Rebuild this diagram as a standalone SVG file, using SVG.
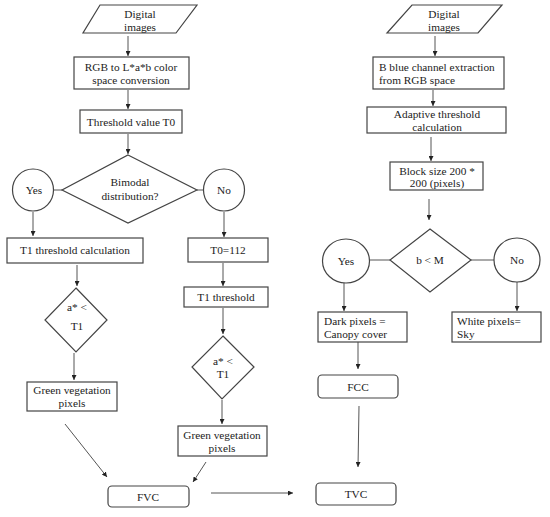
<svg xmlns="http://www.w3.org/2000/svg" width="550" height="517" viewBox="0 0 550 517">
<defs>
<marker id="ah" viewBox="0 0 10 10" refX="10" refY="5" markerWidth="5" markerHeight="5" orient="auto" markerUnits="userSpaceOnUse">
<path d="M0,0 L10,5 L0,10 z" fill="#222"/>
</marker>
</defs>
<style>
.s{fill:#fff;stroke:#444;stroke-width:1.2}
text{font-family:'Liberation Serif','Times New Roman',Times,serif;font-size:11.3px;fill:#222;text-anchor:middle}
.l{text-anchor:start}
.c{fill:none;stroke:#555;stroke-width:1}
.a{marker-end:url(#ah)}
</style>
<rect width="550" height="517" fill="#fff"/>
<g id="connectors">
<line class="c a" x1="128" y1="36" x2="128" y2="56"/>
<line class="c a" x1="128" y1="90" x2="128" y2="109"/>
<line class="c a" x1="128" y1="134" x2="128" y2="154"/>
<line class="c" x1="54" y1="190" x2="62" y2="190"/>
<line class="c" x1="197" y1="190" x2="204" y2="190"/>
<line class="c a" x1="33" y1="212" x2="33" y2="236"/>
<line class="c a" x1="224" y1="212" x2="224" y2="237"/>
<line class="c a" x1="77" y1="265" x2="77" y2="286"/>
<line class="c a" x1="223" y1="263" x2="223" y2="286"/>
<line class="c a" x1="223" y1="308" x2="223" y2="334"/>
<line class="c a" x1="74" y1="353" x2="74" y2="380"/>
<line class="c a" x1="222" y1="400" x2="222" y2="424"/>
<line class="c a" x1="65" y1="424" x2="107" y2="477"/>
<line class="c a" x1="206" y1="462" x2="193" y2="482"/>
<line class="c a" x1="211" y1="493" x2="293" y2="493"/>
<line class="c a" x1="435" y1="36" x2="435" y2="56"/>
<line class="c a" x1="433" y1="90" x2="433" y2="106"/>
<line class="c a" x1="431" y1="137" x2="431" y2="161"/>
<line class="c a" x1="429" y1="199" x2="429" y2="220"/>
<line class="c" x1="370" y1="260" x2="390" y2="260"/>
<line class="c" x1="471" y1="260" x2="494" y2="260"/>
<line class="c a" x1="344" y1="283" x2="344" y2="311"/>
<line class="c a" x1="517" y1="282" x2="517" y2="311"/>
<line class="c a" x1="358" y1="342" x2="358" y2="369"/>
<line class="c a" x1="359" y1="406" x2="358" y2="467"/>
</g>
<g id="digital-left">
<polygon class="s" points="100,5 197,5 176,33 83,33"/>
<text x="140" y="18">Digital</text>
<text x="140" y="31">images</text>
</g>
<g id="rgb-lab">
<rect class="s" x="74" y="57" width="115" height="32"/>
<text x="131" y="71">RGB to L*a*b color</text>
<text x="131" y="84">space conversion</text>
</g>
<g id="threshold-t0">
<rect class="s" x="80" y="110" width="102" height="23"/>
<text x="131" y="126">Threshold value T0</text>
</g>
<g id="bimodal">
<polygon class="s" points="128,155 197,190 128,223 62,190"/>
<text x="130" y="186">Bimodal</text>
<text x="130" y="200">distribution?</text>
</g>
<g id="yes-left">
<ellipse class="s" cx="33" cy="190" rx="20.5" ry="21"/>
<text x="34" y="194">Yes</text>
</g>
<g id="no-left">
<ellipse class="s" cx="224" cy="190" rx="20.5" ry="21"/>
<text x="224" y="194">No</text>
</g>
<g id="t1-calc">
<rect class="s" x="7" y="238" width="136" height="25"/>
<text x="75" y="254">T1 threshold calculation</text>
</g>
<g id="t0-112">
<rect class="s" x="188" y="238" width="80" height="24"/>
<text x="228" y="254">T0=112</text>
</g>
<g id="t1-threshold">
<rect class="s" x="184" y="287" width="84" height="20"/>
<text x="226" y="301">T1 threshold</text>
</g>
<g id="a-t1-left">
<polygon class="s" points="76,288 107,320 76,352 45,320"/>
<text x="77" y="311">a* &lt;</text>
<text x="77" y="330">T1</text>
</g>
<g id="a-t1-right">
<polygon class="s" points="223,336 254,367 222,399 192,367"/>
<text x="223" y="365">a* &lt;</text>
<text x="223" y="378">T1</text>
</g>
<g id="green-left">
<rect class="s" x="27" y="382" width="90" height="29"/>
<text x="72" y="394">Green vegetation</text>
<text x="72" y="407">pixels</text>
</g>
<g id="green-right">
<rect class="s" x="178" y="426" width="89" height="30"/>
<text x="222" y="439">Green vegetation</text>
<text x="222" y="452">pixels</text>
</g>
<g id="fvc">
<rect class="s" x="108" y="486" width="81" height="21" rx="4"/>
<text x="148" y="501">FVC</text>
</g>
<g id="digital-right">
<polygon class="s" points="412,5 502,5 478,33 387,33"/>
<text x="444" y="18">Digital</text>
<text x="444" y="31">images</text>
</g>
<g id="blue-channel">
<rect class="s" x="373" y="57" width="131" height="32"/>
<text class="l" x="379" y="71">B blue channel extraction</text>
<text class="l" x="379" y="84">from RGB space</text>
</g>
<g id="adaptive">
<rect class="s" x="367" y="107" width="139" height="26"/>
<text x="437" y="118">Adaptive threshold</text>
<text x="437" y="131">calculation</text>
</g>
<g id="block-size">
<rect class="s" x="390" y="162" width="93" height="28"/>
<text x="437" y="175">Block size 200 *</text>
<text x="437" y="187">200 (pixels)</text>
</g>
<g id="b-m">
<polygon class="s" points="430,229 471,260 430,292 390,260"/>
<text x="430" y="264">b &lt; M</text>
</g>
<g id="yes-right">
<ellipse class="s" cx="346" cy="261" rx="23.5" ry="22"/>
<text x="346" y="265">Yes</text>
</g>
<g id="no-right">
<ellipse class="s" cx="517" cy="260" rx="23" ry="22"/>
<text x="517" y="264">No</text>
</g>
<g id="dark-pixels">
<rect class="s" x="318" y="312" width="89" height="30"/>
<text class="l" x="324" y="325">Dark pixels =</text>
<text class="l" x="324" y="338">Canopy cover</text>
</g>
<g id="white-pixels">
<rect class="s" x="452" y="312" width="89" height="30"/>
<text class="l" x="457" y="325">White pixels=</text>
<text class="l" x="457" y="338">Sky</text>
</g>
<g id="fcc">
<rect class="s" x="318" y="375" width="80" height="23" rx="4"/>
<text x="358" y="391">FCC</text>
</g>
<g id="tvc">
<rect class="s" x="316" y="483" width="80" height="22" rx="4"/>
<text x="356" y="498">TVC</text>
</g>
</svg>
